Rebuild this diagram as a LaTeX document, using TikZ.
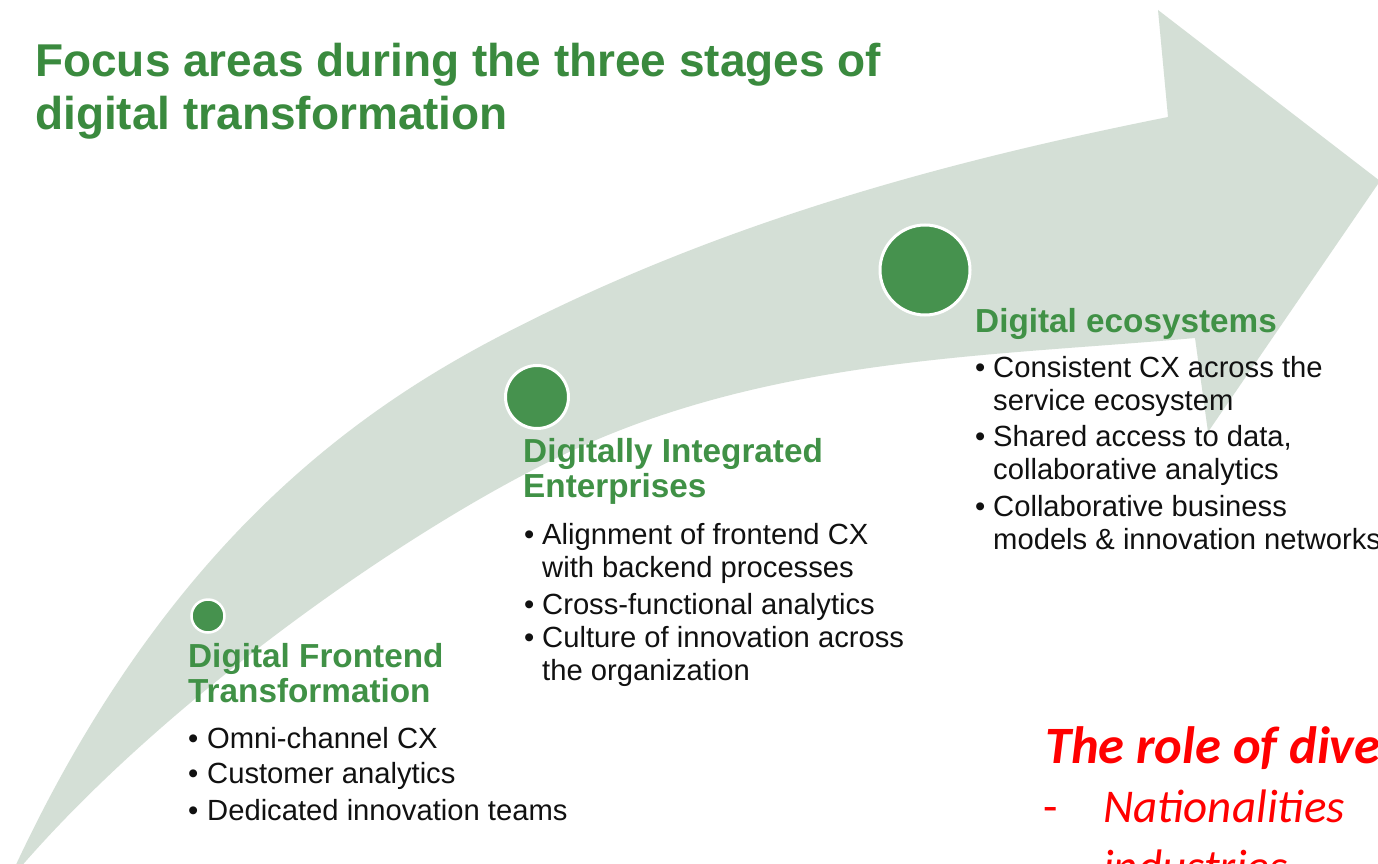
\documentclass[tikz,border=0pt]{standalone}
\usepackage{fontspec}
\setmainfont{Liberation Sans}
\newfontfamily\redfont{Carlito}
\definecolor{band}{RGB}{212,223,214}
\definecolor{cgreen}{RGB}{70,146,78}
\definecolor{tgreen}{RGB}{58,138,62}
\definecolor{hgreen}{RGB}{64,145,70}
\definecolor{txt}{RGB}{17,17,17}
\definecolor{redtxt}{RGB}{255,0,0}
\begin{document}
\begin{tikzpicture}[x=1pt,y=-1pt,
  titlestyle/.style={anchor=base west, inner sep=0pt, text=tgreen, font=\fontsize{46}{53}\selectfont\bfseries},
  headstyle/.style={anchor=base west, inner sep=0pt, text=hgreen, font=\fontsize{33.3}{35}\selectfont\bfseries},
  itemstyle/.style={anchor=base west, inner sep=0pt, text=txt, font=\fontsize{29.2}{33}\selectfont},
  dotstyle/.style={circle, fill=cgreen, draw=white, inner sep=0pt},
  redhead/.style={anchor=base west, inner sep=0pt, text=redtxt, font=\redfont\fontsize{52.5}{58}\selectfont\bfseries\itshape},
  redline/.style={anchor=base west, inner sep=0pt, text=redtxt, font=\redfont\fontsize{47}{52}\selectfont\itshape},
  reddash/.style={anchor=base west, inner sep=0pt, text=redtxt, font=\redfont\fontsize{47}{52}\selectfont}
]
\useasboundingbox (0,0) rectangle (1378,864);
\clip (0,0) rectangle (1378,864);
\fill[white] (0,0) rectangle (1378,864);
% curved arrow
\fill[band] (8,882) .. controls (158,552) and (350,414) .. (500,336)
  .. controls (720,221.6) and (948,161) .. (1168,117)
  -- (1158,10) -- (1380,181) -- (1208,432) -- (1195,338)
  .. controls (995,356) and (780,357) .. (580,447)
  .. controls (420,519) and (158,702) .. (8,882) -- cycle;
% circles
\node[dotstyle, minimum size=33pt, line width=2.5pt] (c1) at (208,616) {};
\node[dotstyle, minimum size=63pt, line width=3pt] (c2) at (537,397) {};
\node[dotstyle, minimum size=90pt, line width=3pt] (c3) at (925,270) {};
% title
\node[titlestyle] (ti1) at (35,77) {Focus areas during the three stages of};
\node[titlestyle] (ti2) at (35,129) {digital transformation};
% stage 1
\node[headstyle] (h1a) at (188,667) {Digital Frontend};
\node[headstyle] (h1b) at (188,702) {Transformation};
\node[itemstyle] (b1a) at (188,748) {•};
\node[itemstyle] (t1a) at (207,748) {Omni-channel CX};
\node[itemstyle] (b1b) at (188,783) {•};
\node[itemstyle] (t1b) at (207,783) {Customer analytics};
\node[itemstyle] (b1c) at (188,820) {•};
\node[itemstyle] (t1c) at (207,820) {Dedicated innovation teams};
% stage 2
\node[headstyle] (h2a) at (523,462) {Digitally Integrated};
\node[headstyle] (h2b) at (523,497) {Enterprises};
\node[itemstyle] (b2a) at (524,544) {•};
\node[itemstyle] (t2a) at (542,544) {Alignment of frontend CX};
\node[itemstyle] (t2a2) at (542,577) {with backend processes};
\node[itemstyle] (b2b) at (524,614) {•};
\node[itemstyle] (t2b) at (542,614) {Cross-functional analytics};
\node[itemstyle] (b2c) at (524,647) {•};
\node[itemstyle] (t2c) at (542,647) {Culture of innovation across};
\node[itemstyle] (t2c2) at (542,680) {the organization};
% stage 3
\node[headstyle] (h3a) at (975,332) {Digital ecosystems};
\node[itemstyle] (b3a) at (975,377) {•};
\node[itemstyle] (t3a) at (993,377) {Consistent CX across the};
\node[itemstyle] (t3a2) at (993,410) {service ecosystem};
\node[itemstyle] (b3b) at (975,446) {•};
\node[itemstyle] (t3b) at (993,446) {Shared access to data,};
\node[itemstyle] (t3b2) at (993,479) {collaborative analytics};
\node[itemstyle] (b3c) at (975,516) {•};
\node[itemstyle] (t3c) at (993,516) {Collaborative business};
\node[itemstyle] (t3c2) at (993,549) {models \& innovation networks};
% red note
\node[redhead] (r1) at (1045,763) {The role of dive};
\node[reddash] (r2) at (1043,822) {-};
\node[redline] (r3) at (1103,822) {Nationalities};
\node[redline] (r4) at (1103,882) {industries};
\end{tikzpicture}
\end{document}
